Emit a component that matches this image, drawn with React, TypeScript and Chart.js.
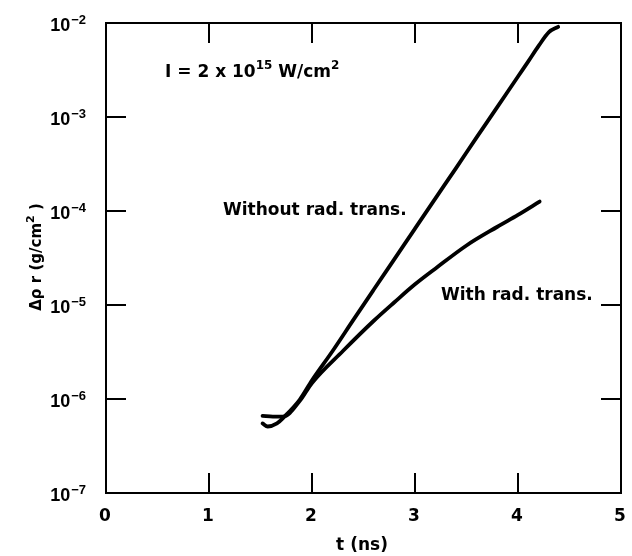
import React, { useEffect, useRef } from "react";
import { Chart, registerables } from "chart.js";

Chart.register(...registerables);

const withoutT = [1.52, 1.57, 1.66, 1.72, 1.88, 2.0, 2.2, 2.4, 2.6, 2.8, 3.0, 3.2, 3.4, 3.6, 3.8, 4.0, 4.1, 4.2, 4.3, 4.39];
const withoutV = [5.5e-7, 5.1e-7, 5.5e-7, 6.3e-7, 9.8e-7, 1.58e-6, 3.24e-6, 6.9e-6, 1.46e-5, 3.08e-5, 6.5e-5, 1.37e-4, 2.88e-4, 6.1e-4, 1.28e-3, 2.7e-3, 3.9e-3, 5.7e-3, 8.0e-3, 9.1e-3];

const withT = [1.52, 1.62, 1.72, 1.88, 2.0, 2.3, 2.6, 2.8, 3.0, 3.2, 3.5, 3.8, 4.0, 4.21];
const withV = [6.6e-7, 6.5e-7, 6.5e-7, 9.5e-7, 1.48e-6, 3.24e-6, 6.8e-6, 1.07e-5, 1.66e-5, 2.45e-5, 4.3e-5, 6.8e-5, 9.1e-5, 1.26e-4];

const xTicks = [0, 1, 2, 3, 4, 5];
const yExponents = [-2, -3, -4, -5, -6, -7];

const FONT = "'Liberation Sans', Arial, sans-serif";
const WIDE = "'DejaVu Sans', sans-serif";

function toPoints(ts: number[], vs: number[]) {
  return ts.map((t, i) => ({ x: t, y: vs[i] }));
}

const decorPlugin = {
  id: "decor",
  afterDraw(chart: any) {
    const ctx = chart.ctx as CanvasRenderingContext2D;
    const area = chart.chartArea;
    const xs = chart.scales.x;
    const ys = chart.scales.y;
    ctx.save();
    ctx.strokeStyle = "#000";
    ctx.fillStyle = "#000";
    ctx.lineWidth = 2;
    ctx.strokeRect(area.left, area.top, area.right - area.left, area.bottom - area.top);
    const tl = 20;
    xTicks.forEach((v) => {
      const px = xs.getPixelForValue(v);
      if (v === 0 || v === 5) return;
      ctx.beginPath();
      ctx.moveTo(px, area.bottom);
      ctx.lineTo(px, area.bottom - tl);
      ctx.moveTo(px, area.top);
      ctx.lineTo(px, area.top + tl);
      ctx.stroke();
    });
    yExponents.forEach((e) => {
      const py = ys.getPixelForValue(Math.pow(10, e));
      if (e === -2 || e === -7) return;
      ctx.beginPath();
      ctx.moveTo(area.left, py);
      ctx.lineTo(area.left + tl, py);
      ctx.moveTo(area.right, py);
      ctx.lineTo(area.right - tl, py);
      ctx.stroke();
    });
    // x tick labels
    ctx.font = `bold 17px ${WIDE}`;
    ctx.textAlign = "center";
    ctx.textBaseline = "alphabetic";
    xTicks.forEach((v) => {
      const px = xs.getPixelForValue(v);
      ctx.fillText(String(v), px - 1, area.bottom + 28);
    });
    // y tick labels
    yExponents.forEach((e) => {
      const py = ys.getPixelForValue(Math.pow(10, e));
      ctx.font = `bold 13px ${FONT}`;
      const sup = "\u2212" + String(-e);
      const supW = ctx.measureText(sup).width;
      const right = area.left - 20;
      ctx.textAlign = "right";
      ctx.fillText(sup, right, py + 1);
      ctx.font = `bold 18px ${FONT}`;
      ctx.fillText("10", right - supW - 1, py + 8);
    });
    // axis titles
    ctx.font = `bold 17px ${WIDE}`;
    ctx.textAlign = "center";
    ctx.fillText("t (ns)", 362, 550);
    ctx.save();
    ctx.translate(41, 257);
    ctx.rotate(-Math.PI / 2);
    ctx.font = `bold 15px ${WIDE}`;
    const p1 = "\u0394\u03c1 r (g/cm";
    const w1 = ctx.measureText(p1).width;
    ctx.font = `bold 11px ${WIDE}`;
    const w2 = ctx.measureText("2").width;
    ctx.font = `bold 15px ${WIDE}`;
    const w3 = ctx.measureText(" )").width;
    const total = w1 + w2 + w3;
    const x0 = -total / 2;
    ctx.textAlign = "left";
    ctx.fillText(p1, x0, 0);
    ctx.font = `bold 11px ${WIDE}`;
    ctx.fillText("2", x0 + w1, -7);
    ctx.font = `bold 15px ${WIDE}`;
    ctx.fillText(" )", x0 + w1 + w2, 0);
    ctx.restore();
    // annotation
    ctx.textAlign = "left";
    ctx.font = `bold 17px ${WIDE}`;
    let ax = 165;
    const ay = 77;
    const a1 = "I = 2 x 10";
    ctx.fillText(a1, ax, ay);
    ax += ctx.measureText(a1).width;
    ctx.font = `bold 12px ${WIDE}`;
    ctx.fillText("15", ax, ay - 8);
    ax += ctx.measureText("15").width;
    ctx.font = `bold 17px ${WIDE}`;
    const a2 = " W/cm";
    ctx.fillText(a2, ax, ay);
    ax += ctx.measureText(a2).width;
    ctx.font = `bold 12px ${WIDE}`;
    ctx.fillText("2", ax, ay - 8);
    // curve labels
    ctx.font = `bold 17px ${WIDE}`;
    ctx.fillText("Without rad. trans.", 223, 215);
    ctx.fillText("With rad. trans.", 441, 300);
    ctx.restore();
  },
};

export default function App() {
  const ref = useRef<HTMLCanvasElement | null>(null);
  useEffect(() => {
    if (!ref.current) return;
    const chart = new Chart(ref.current, {
      type: "line",
      data: {
        datasets: [
          {
            label: "Without rad. trans.",
            data: toPoints(withoutT, withoutV),
            borderColor: "#000",
            borderWidth: 3.8,
            pointRadius: 0,
            cubicInterpolationMode: "monotone",
            fill: false,
            borderCapStyle: "round",
            borderJoinStyle: "round",
          },
          {
            label: "With rad. trans.",
            data: toPoints(withT, withV),
            borderColor: "#000",
            borderWidth: 3.8,
            pointRadius: 0,
            cubicInterpolationMode: "monotone",
            fill: false,
            borderCapStyle: "round",
            borderJoinStyle: "round",
          },
        ],
      },
      options: {
        animation: false,
        responsive: false,
        layout: { padding: { left: 106, top: 23, right: 11, bottom: 63 } },
        plugins: { legend: { display: false }, tooltip: { enabled: false } },
        scales: {
          x: { type: "linear", min: 0, max: 5, display: false },
          y: { type: "logarithmic", min: 1e-7, max: 1e-2, display: false },
        },
      },
      plugins: [decorPlugin],
    });
    return () => chart.destroy();
  }, []);
  return (
    <div style={{ position: "fixed", left: 0, top: 0, width: 632, height: 556, background: "#fff" }}>
      <canvas ref={ref} width={632} height={556} style={{ width: 632, height: 556 }} />
    </div>
  );
}
